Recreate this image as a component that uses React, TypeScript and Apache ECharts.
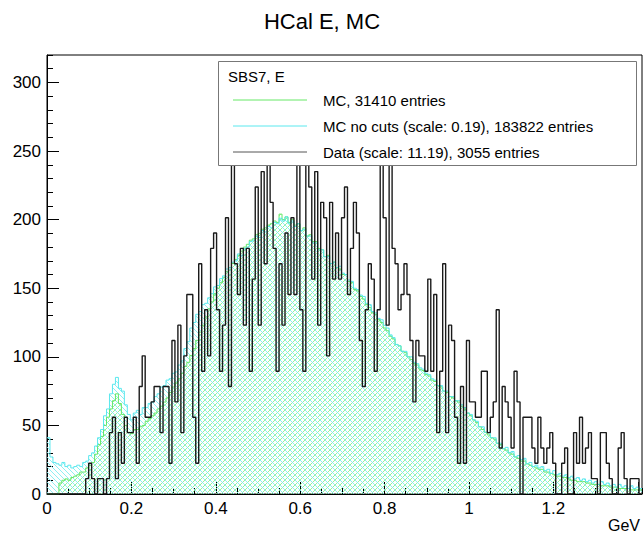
import React, { useEffect, useRef } from "react";
import * as echarts from "echarts";

// Histogram binning (GeV) and vertical range
const X_MAX = 1.41;
const N_BINS = 200;
const Y_MAX = 320;
const DATA_SCALE = 11.19;

const TITLE = "HCal E, MC";
const LEGEND_HEADER = "SBS7, E";
const LEGEND_LABELS = [
  "MC, 31410 entries",
  "MC no cuts (scale: 0.19), 183822 entries",
  "Data (scale: 11.19), 3055 entries",
];
const X_UNIT = "GeV";

// MC with cuts (bin contents)
const mc = [
  0, 0, 0, 0, 8, 10, 11, 10, 12, 13,
  14, 16, 16, 19, 21, 23, 29, 36, 42, 50,
  56, 62, 68, 73, 66, 58, 50, 45, 44, 47,
  47, 49, 50, 53, 55, 57, 59, 62, 64, 67,
  70, 74, 78, 81, 84, 88, 93, 96, 101, 106,
  112, 118, 123, 129, 135, 140, 146, 150, 154, 158,
  162, 165, 168, 171, 174, 177, 180, 182, 185, 186,
  189, 190, 193, 194, 196, 197, 199, 198, 204, 200,
  202, 198, 200, 196, 197, 192, 194, 188, 189, 184,
  184, 179, 178, 173, 174, 168, 169, 165, 164, 160,
  160, 155, 154, 149, 148, 144, 142, 138, 136, 132,
  131, 127, 125, 121, 119, 115, 113, 109, 108, 104,
  103, 100, 98, 95, 94, 91, 90, 87, 86, 83,
  82, 79, 78, 75, 74, 71, 70, 68, 67, 64,
  62, 59, 57, 54, 52, 49, 47, 45, 43, 41,
  40, 37, 36, 33, 32, 30, 29, 27, 26, 24,
  24, 22, 21, 20, 19, 18, 18, 16, 16, 15,
  14, 13, 13, 12, 12, 11, 10, 10, 9, 9,
  9, 8, 8, 7, 7, 7, 6, 6, 6, 5,
  5, 5, 4, 4, 4, 4, 3, 3, 3, 3,
];

// MC without cuts, already scaled by 0.19
const mcNoCuts = [
  41, 27, 23, 22, 21, 23, 20, 21, 19, 20,
  21, 20, 23, 24, 28, 30, 35, 41, 47, 57,
  62, 73, 80, 85, 77, 75, 65, 58, 54, 59,
  61, 58, 63, 63, 66, 67, 71, 73, 78, 79,
  83, 84, 88, 89, 94, 97, 106, 111, 121, 125,
  131, 133, 138, 139, 143, 146, 151, 152, 157, 159,
  164, 165, 169, 170, 175, 174, 179, 180, 184, 185,
  188, 187, 192, 191, 195, 194, 198, 197, 201, 199,
  202, 197, 199, 195, 197, 192, 193, 188, 188, 183,
  183, 178, 178, 173, 173, 168, 169, 165, 166, 161,
  160, 156, 155, 150, 149, 145, 144, 139, 138, 133,
  132, 128, 127, 123, 121, 116, 114, 109, 108, 104,
  104, 100, 100, 96, 95, 92, 91, 88, 87, 84,
  83, 79, 79, 75, 75, 71, 71, 68, 68, 65,
  63, 59, 58, 54, 53, 49, 49, 45, 45, 41,
  41, 37, 37, 33, 34, 30, 31, 27, 28, 25,
  26, 22, 23, 20, 21, 19, 20, 17, 18, 15,
  17, 14, 15, 13, 14, 12, 13, 11, 12, 10,
  11, 9, 10, 8, 9, 7, 9, 7, 8, 6,
  7, 5, 7, 5, 6, 4, 6, 4, 5, 4,
];

// Data: raw event counts per bin (drawn scaled by DATA_SCALE)
const dataCounts = [
  0, 0, 0, 0, 0, 0, 0, 0, 0, 0,
  0, 0, 0, 1, 2, 1, 0, 1, 1, 0,
  1, 4, 5, 1, 4, 2, 5, 4, 4, 5,
  2, 7, 9, 5, 5, 6, 7, 7, 4, 7,
  7, 2, 10, 6, 11, 4, 9, 13, 13, 5,
  2, 15, 8, 12, 9, 16, 17, 12, 8, 11,
  18, 7, 24, 15, 13, 16, 11, 16, 8, 14,
  20, 11, 21, 15, 23, 19, 16, 8, 15, 11,
  17, 13, 18, 13, 23, 12, 8, 22, 20, 14,
  21, 11, 19, 18, 9, 19, 14, 17, 14, 18,
  20, 13, 16, 19, 17, 10, 7, 12, 15, 14,
  8, 12, 24, 18, 11, 23, 16, 15, 12, 13,
  15, 13, 10, 6, 10, 9, 9, 8, 14, 8,
  13, 4, 8, 15, 4, 11, 10, 5, 2, 7,
  2, 10, 6, 6, 5, 5, 8, 8, 4, 5,
  6, 12, 3, 7, 6, 5, 3, 8, 6, 0,
  5, 5, 5, 3, 2, 5, 3, 2, 3, 4,
  2, 0, 0, 2, 3, 0, 0, 4, 2, 5,
  2, 3, 4, 1, 1, 0, 4, 4, 2, 1,
  0, 0, 3, 4, 1, 0, 1, 1, 1, 0,
];

const GREEN = "#66e866";
const CYAN = "#5ae8ee";
const GREEN_HATCH = "#8cf08c";
const CYAN_HATCH = "#80eef2";
const BLACK = "#1a1a1a";
const FONT = "Liberation Sans";

const binWidth = X_MAX / N_BINS;

// Step outline points: one point per lower bin edge plus the final upper edge
function toSteps(vals: number[]): number[][] {
  const pts = vals.map((v, i) => [i * binWidth, v]);
  pts.push([vals.length * binWidth, vals[vals.length - 1]]);
  return pts;
}

// Repeating diagonal hatch tile used as a fill pattern
function hatch(color: string, forward: boolean) {
  const s = 5;
  const c = document.createElement("canvas");
  c.width = s;
  c.height = s;
  const ctx = c.getContext("2d")!;
  ctx.strokeStyle = color;
  ctx.lineWidth = 0.9;
  ctx.beginPath();
  if (forward) {
    ctx.moveTo(-1, s + 1);
    ctx.lineTo(s + 1, -1);
    ctx.moveTo(-1, 1);
    ctx.lineTo(1, -1);
    ctx.moveTo(s - 1, s + 1);
    ctx.lineTo(s + 1, s - 1);
  } else {
    ctx.moveTo(-1, -1);
    ctx.lineTo(s + 1, s + 1);
    ctx.moveTo(s - 1, -1);
    ctx.lineTo(s + 1, 1);
    ctx.moveTo(-1, s - 1);
    ctx.lineTo(1, s + 1);
  }
  ctx.stroke();
  return { image: c, repeat: "repeat", imageWidth: s, imageHeight: s };
}

export default function App() {
  const ref = useRef<HTMLDivElement>(null);

  useEffect(() => {
    if (!ref.current) return;
    const chart = echarts.init(ref.current, undefined, { renderer: "svg" });

    const axisLineStyle = { color: "#000", width: 1 };
    const legendY = [100, 126, 152];
    const legendColors = [GREEN, CYAN, "#555"];
    const TOP = 1000;

    chart.setOption({
      animation: false,
      textStyle: { fontFamily: FONT },
      title: {
        text: TITLE,
        left: "center",
        top: 5,
        textStyle: { fontFamily: FONT, fontSize: 22, fontWeight: "normal", color: "#000" },
      },
      grid: {
        left: 47,
        right: 2,
        top: 55,
        bottom: 46,
        show: true,
        borderColor: "#000",
        borderWidth: 1,
        backgroundColor: "transparent",
      },
      xAxis: [
        {
          type: "value",
          min: 0,
          max: X_MAX,
          interval: 0.2,
          position: "bottom",
          axisLine: { show: true, lineStyle: axisLineStyle },
          axisTick: { show: true, inside: true, length: 12, lineStyle: axisLineStyle },
          axisLabel: {
            margin: 6,
            fontSize: 17,
            color: "#000",
            fontFamily: FONT,
            showMaxLabel: false,
            formatter: (v: number) => (v > 1.3 ? "" : String(Math.round(v * 10) / 10)),
          },
          splitLine: { show: false },
        },
        {
          type: "value",
          min: 0,
          max: X_MAX,
          interval: 0.05,
          position: "bottom",
          axisLine: { show: false },
          axisTick: { show: true, inside: true, length: 6, lineStyle: axisLineStyle },
          axisLabel: { show: false },
          splitLine: { show: false },
        },
      ],
      yAxis: [
        {
          type: "value",
          min: 0,
          max: Y_MAX,
          interval: 50,
          position: "left",
          axisLine: { show: true, lineStyle: axisLineStyle },
          axisTick: { show: true, inside: true, length: 12, lineStyle: axisLineStyle },
          axisLabel: { margin: 6, fontSize: 17, color: "#000", fontFamily: FONT, showMaxLabel: false },
          splitLine: { show: false },
        },
        {
          type: "value",
          min: 0,
          max: Y_MAX,
          interval: 10,
          position: "left",
          axisLine: { show: false },
          axisTick: { show: true, inside: true, length: 6, lineStyle: axisLineStyle },
          axisLabel: { show: false },
          splitLine: { show: false },
        },
      ],
      series: [
        {
          name: LEGEND_LABELS[0],
          type: "line",
          step: "end",
          symbol: "none",
          xAxisIndex: 0,
          yAxisIndex: 0,
          lineStyle: { color: GREEN, width: 1 },
          areaStyle: { color: hatch(GREEN_HATCH, true), opacity: 1 },
          data: toSteps(mc),
        },
        {
          name: LEGEND_LABELS[1],
          type: "line",
          step: "end",
          symbol: "none",
          xAxisIndex: 0,
          yAxisIndex: 0,
          lineStyle: { color: CYAN, width: 1 },
          areaStyle: { color: hatch(CYAN_HATCH, false), opacity: 1 },
          data: toSteps(mcNoCuts),
        },
        {
          name: LEGEND_LABELS[2],
          type: "line",
          step: "end",
          symbol: "none",
          xAxisIndex: 0,
          yAxisIndex: 0,
          lineStyle: { color: BLACK, width: 1.4 },
          data: toSteps(dataCounts.map((c) => c * DATA_SCALE)),
        },
      ],
      graphic: [
        {
          type: "rect",
          z: TOP,
          shape: { x: 218.5, y: 61.5, width: 418, height: 104 },
          style: { fill: "#fff", stroke: "#777", lineWidth: 1 },
        },
        {
          type: "text",
          z: TOP + 1,
          x: 228,
          y: 76,
          style: {
            text: LEGEND_HEADER,
            font: `15px '${FONT}'`,
            fill: "#000",
            verticalAlign: "middle",
          },
        },
        ...LEGEND_LABELS.flatMap((label, i) => [
          {
            type: "line",
            z: TOP + 1,
            shape: { x1: 233, y1: legendY[i], x2: 307, y2: legendY[i] },
            style: { stroke: legendColors[i], lineWidth: 1 },
          },
          {
            type: "text",
            z: TOP + 1,
            x: 323,
            y: legendY[i],
            style: {
              text: label,
              font: `15px '${FONT}'`,
              fill: "#000",
              verticalAlign: "middle",
            },
          },
        ]),
        {
          type: "text",
          z: TOP,
          x: 640,
          y: 525,
          style: {
            text: X_UNIT,
            font: `16px '${FONT}'`,
            fill: "#000",
            align: "right",
            verticalAlign: "middle",
          },
        },
      ],
    });

    return () => chart.dispose();
  }, []);

  return (
    <div
      ref={ref}
      style={{ position: "absolute", left: 0, top: 0, width: 644, height: 540, background: "#fff" }}
    />
  );
}
